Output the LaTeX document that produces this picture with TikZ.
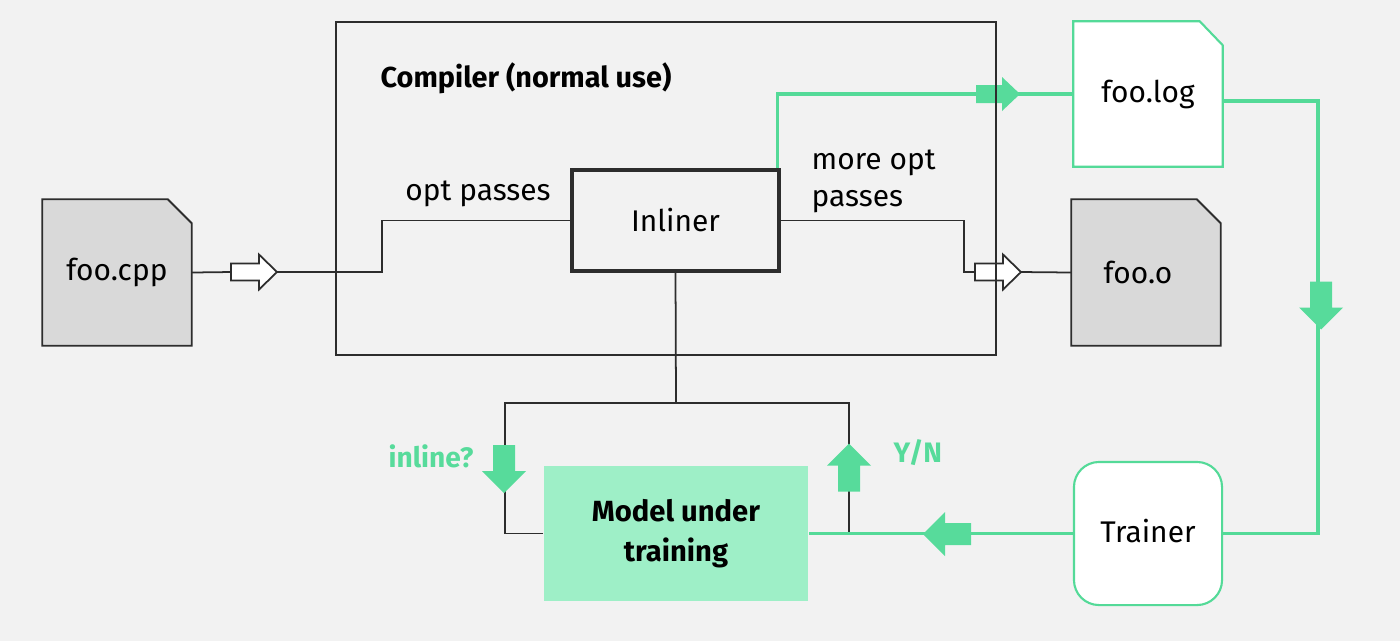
\documentclass[tikz,border=0pt]{standalone}
\usepackage{fontspec}
\setmainfont{Fira Sans}
\definecolor{bgc}{RGB}{242,242,242}
\definecolor{dline}{RGB}{45,45,45}
\definecolor{docgray}{RGB}{217,217,217}
\definecolor{lgreen}{RGB}{84,218,152}
\definecolor{agreen}{RGB}{87,219,155}
\definecolor{modelgreen}{RGB}{158,239,199}
\pgfdeclarelayer{back}
\pgfdeclarelayer{mid}
\pgfsetlayers{back,mid,main}
\tikzset{
  thinline/.style={draw=dline, line width=0.5pt},
  greenline/.style={draw=lgreen, line width=0.9pt},
  txt/.style={font=\fontsize{8.5}{10.5}\selectfont, text=black},
  docnode/.style={minimum width=1.48cm, minimum height=1.45cm, inner sep=0pt, txt},
  pics/hollowarr/.style={code={\filldraw[fill=white, draw=dline, line width=0.5pt] (-23,-8.5)--(5,-8.5)--(5,-17.5)--(23,0)--(5,17.5)--(5,8.5)--(-23,8.5)--cycle;}},
  pics/greenarr/.style={code={\fill[agreen] (-24,-11)--(2,-11)--(2,-22)--(24,0)--(2,22)--(2,11)--(-24,11)--cycle;}},
  pics/greensmall/.style={code={\fill[agreen] (-22,-9)--(4,-9)--(4,-17)--(22,0)--(4,17)--(4,9)--(-22,9)--cycle;}},
}
\begin{document}
\begin{tikzpicture}[x=0.01cm, y=-0.01cm]
\begin{pgfonlayer}{back}
\fill[bgc] (0,0) rectangle (1400,641);
\end{pgfonlayer}
\useasboundingbox (0,0) rectangle (1400,641);

% document-like nodes
\node[docnode] (cpp) at (117,272.5) {foo.cpp};
\node[docnode] (obj) at (1146,272.5) {\hspace*{-0.16cm}foo.o};
\node[docnode, minimum height=1.44cm] (log) at (1148,94) {\raisebox{-0.07cm}{foo.log}};
\begin{pgfonlayer}{mid}
\filldraw[fill=docgray, draw=dline, line width=0.55pt] (cpp.south west) -- (cpp.north west) -- ([xshift=-0.24cm]cpp.north east) -- ([yshift=-0.24cm]cpp.north east) -- (cpp.south east) -- cycle;
\filldraw[fill=docgray, draw=dline, line width=0.55pt] (obj.south west) -- (obj.north west) -- ([xshift=-0.24cm]obj.north east) -- ([yshift=-0.24cm]obj.north east) -- (obj.south east) -- cycle;
\filldraw[fill=white, draw=lgreen, line width=0.6pt] (log.south west) -- (log.north west) -- ([xshift=-0.23cm]log.north east) -- ([yshift=-0.24cm]log.north east) -- (log.south east) -- cycle;
\end{pgfonlayer}

\node[draw=dline, line width=1pt, minimum width=2.07cm, minimum height=1.01cm, inner sep=0pt, txt] (inliner) at (675.5,220.5) {Inliner};
\node[draw=lgreen, fill=white, line width=0.6pt, rounded corners=0.25cm, minimum width=1.48cm, minimum height=1.43cm, inner sep=0pt, txt] (trainer) at (1148,533.5) {\raisebox{0.05cm}{Trainer}};
\node[fill=modelgreen, minimum width=2.64cm, minimum height=1.35cm, inner sep=0pt, align=center, font=\fontsize{8.3}{10.2}\selectfont\bfseries] (model) at (676,533.5) {\raisebox{0.05cm}{\shortstack{Model under\\[0.05cm]training}}};

% coordinates
\coordinate (a1t) at (231,272);
\coordinate (a1h) at (277,272);
\coordinate (s1) at (382,272);
\coordinate (a2t) at (975,272);
\coordinate (a2h) at (1021,272);
\coordinate (s2) at (964,220.5);
\coordinate (rt) at (1318,101);
\coordinate (split) at (676,403);
\coordinate (ll) at (505,403);
\coordinate (rr) at (849,403);

% black connectors
\draw[thinline] (cpp.east) -- (a1t);
\draw[thinline] (a1h) -- (s1) |- (inliner.west);
\draw[thinline] (inliner.east) -- (s2) |- (a2t);
\draw[thinline] (a2h) -- (obj.west);
\draw[thinline] (inliner.south) -- (split);
\draw[thinline] (model.west) -| (ll) -- (rr) -- (rr |- model.east);

% green connectors
\draw[greenline] ([xshift=-0.9pt]inliner.north east) |- (log.west);
\draw[greenline] (rt -| log.east) -- (rt) |- (trainer.east);
\draw[greenline] (trainer.west) -- (model.east);

% block arrows
\pic at (254,272) {hollowarr};
\pic at (998,272) {hollowarr};
\pic at (998,94) {greensmall};
\pic[rotate=-90] at (1321,305.5) {greenarr};
\pic[rotate=180] at (947,534) {greenarr};
\pic[rotate=-90] at (504,469) {greenarr};
\pic[rotate=90] at (849,467.5) {greenarr};

% compiler frame
\node[draw=dline, line width=0.5pt, minimum width=6.6cm, minimum height=3.33cm, inner sep=0pt] (compiler) at (666,188.5) {};

% labels
\node[anchor=west, font=\fontsize{8.2}{10}\selectfont\bfseries, inner sep=0pt] (ctitle) at (380,78) {Compiler (normal use)};
\node[txt, inner sep=0pt] (optp) at (478,194) {opt passes};
\node[txt, anchor=west, align=left, inner sep=0pt] (moreopt) at (811,181) {more opt\\passes};
\node[font=\fontsize{8}{9.6}\selectfont\bfseries, text=agreen, inner sep=0pt] (inl) at (431,456) {inline?};
\node[font=\fontsize{8}{9.6}\selectfont\bfseries, text=agreen, anchor=west, inner sep=0pt] (yn) at (893,453) {Y/N};
\end{tikzpicture}
\end{document}
